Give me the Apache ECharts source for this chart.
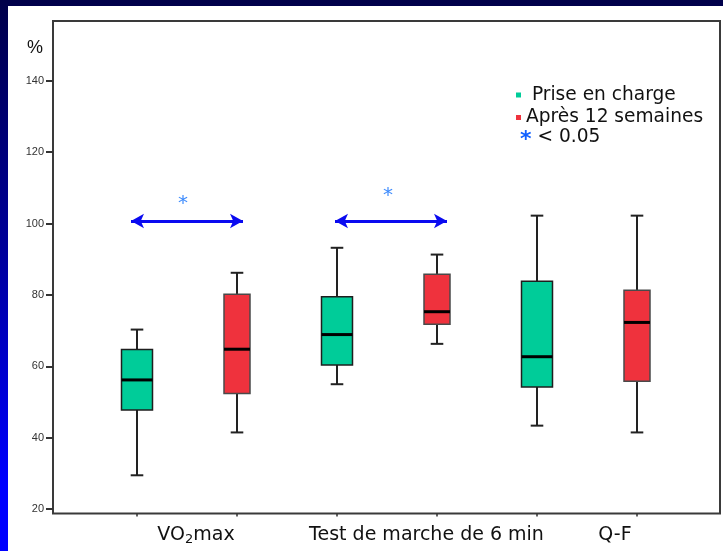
<!DOCTYPE html>
<html>
<head>
<meta charset="utf-8">
<script src="https://cdn.jsdelivr.net/npm/echarts@6/dist/echarts.min.js"></script>
<style>
  html, body { margin: 0; padding: 0; width: 723px; height: 551px; overflow: hidden; }
  body { background: linear-gradient(to bottom, #00004a 0%, #00009a 45%, #0000ff 88%, #0000ff 100%); position: relative; }
  #paper { position: absolute; left: 8px; top: 6px; right: 0; bottom: 0; background: #ffffff; }
  #chart { position: absolute; left: 0; top: 0; width: 723px; height: 551px; }
</style>
</head>
<body>
<div id="paper"></div>
<div id="chart"></div>
<script>
// ---- data ----
const categories = ['VO2max', 'Test de marche de 6 min', 'Q-F'];
const groups = ['Prise en charge', 'Après 12 semaines'];
// [min, Q1, median, Q3, max] per category
const priseEnCharge = [
  [29.5, 47.8, 56.2, 64.7, 70.3],
  [55.0, 60.4, 68.9, 79.5, 93.2],
  [43.4, 54.2, 62.7, 83.8, 102.2]
];
const apres12Semaines = [
  [41.5, 52.4, 64.8, 80.2, 86.2],
  [66.3, 71.8, 75.3, 85.8, 91.3],
  [41.5, 55.8, 72.3, 81.3, 102.2]
];
const yTicks = [20, 40, 60, 80, 100, 120, 140];
const significanceLevel = 100.7;      // p < 0.05 bracket height
const arrowSpans = [[0.94, 2.06], [2.98, 4.10]];
const starMarks = [[1.46, 105.6], [3.51, 107.8]];

// ---- layout helpers ----
const labelPos = [1.59, 3.895, 5.78];
const boxPos = (ci, gi) => ci * 2 + gi + 1;

const green = '#00cc99';
const red = '#ef323d';

function boxRenderer(widthRatio, fill, stroke) {
  return function (params, api) {
    const x = api.value(0);
    const pMin = api.coord([x, api.value(1)]);
    const pQ1 = api.coord([x, api.value(2)]);
    const pMed = api.coord([x, api.value(3)]);
    const pQ3 = api.coord([x, api.value(4)]);
    const pMax = api.coord([x, api.value(5)]);
    const band = api.size([1, 0])[0];
    const hw = band * widthRatio / 2;
    const cw = band * 0.063;
    const cx = pMin[0];
    const wStyle = { stroke: '#222', lineWidth: 2 };
    return {
      type: 'group',
      children: [
        { type: 'line', shape: { x1: cx, y1: pQ1[1], x2: cx, y2: pMin[1] }, style: wStyle },
        { type: 'line', shape: { x1: cx, y1: pQ3[1], x2: cx, y2: pMax[1] }, style: wStyle },
        { type: 'line', shape: { x1: cx - cw, y1: pMin[1], x2: cx + cw, y2: pMin[1] }, style: wStyle },
        { type: 'line', shape: { x1: cx - cw, y1: pMax[1], x2: cx + cw, y2: pMax[1] }, style: wStyle },
        { type: 'rect', shape: { x: cx - hw, y: pQ3[1], width: hw * 2, height: pQ1[1] - pQ3[1] },
          style: { fill: fill, stroke: stroke, lineWidth: 1.5 } },
        { type: 'line', shape: { x1: cx - hw, y1: pMed[1], x2: cx + hw, y2: pMed[1] },
          style: { stroke: '#000', lineWidth: 3 } }
      ]
    };
  };
}

const greenData = priseEnCharge.map((d, ci) => [boxPos(ci, 0)].concat(d));
const redData = apres12Semaines.map((d, ci) => [boxPos(ci, 1)].concat(d));

const arrowLines = arrowSpans.map(s => [
  { coord: [s[0], significanceLevel] },
  { coord: [s[1], significanceLevel] }
]);
const starPoints = starMarks.map(c => ({ coord: c }));

const chart = echarts.init(document.getElementById('chart'), null, { renderer: 'canvas' });
chart.setOption({
  animation: false,
  backgroundColor: 'transparent',
  grid: {
    left: 53, top: 21, width: 667, height: 492.5,
    show: true, borderColor: '#3a3a3a', borderWidth: 2, backgroundColor: 'transparent'
  },
  legend: {
    data: groups,
    orient: 'vertical',
    left: 511, top: 79,
    icon: 'rect', itemWidth: 5, itemHeight: 5, itemGap: 0.5,
    selectedMode: false,
    formatter: n => (n === groups[0] ? ' ' + n : n),
    textStyle: { fontSize: 18.6, fontFamily: 'DejaVu Sans', color: '#111', lineHeight: 22 }
  },
  xAxis: {
    type: 'value', min: 0.16, max: 6.83,
    axisLine: { show: false },
    splitLine: { show: false },
    axisTick: { show: true, customValues: [1, 2, 3, 4, 5, 6], length: 3, lineStyle: { color: '#333', width: 1.5 } },
    axisLabel: {
      customValues: labelPos,
      formatter: v => {
        const i = labelPos.indexOf(v);
        const name = categories[i] || '';
        return name === 'VO2max' ? 'VO{sub|2}max' : name;
      },
      margin: 10.5,
      fontSize: 19, fontFamily: 'DejaVu Sans', color: '#111', lineHeight: 22,
      rich: { sub: { fontSize: 13, fontFamily: 'DejaVu Sans', color: '#111', lineHeight: 13, verticalAlign: 'bottom' } }
    }
  },
  yAxis: {
    type: 'value', min: 18.8, max: 156.7,
    name: '%', nameLocation: 'end', nameGap: -27,
    nameTextStyle: { fontSize: 18, fontFamily: 'Liberation Sans', color: '#111', align: 'right', verticalAlign: 'middle', padding: [0, 10, 0, 0] },
    axisLine: { show: false },
    splitLine: { show: false },
    axisTick: { show: true, customValues: yTicks, length: 7, lineStyle: { color: '#333', width: 2 } },
    axisLabel: { customValues: yTicks, margin: 9, fontSize: 11, fontFamily: 'Liberation Sans', color: '#333' }
  },
  series: [
    {
      name: groups[0], type: 'custom', data: greenData,
      encode: { x: 0, y: [1, 2, 3, 4, 5] },
      itemStyle: { color: green },
      renderItem: boxRenderer(0.31, green, '#1e1e1e')
    },
    {
      name: groups[1], type: 'custom', data: redData,
      encode: { x: 0, y: [1, 2, 3, 4, 5] },
      itemStyle: { color: red },
      renderItem: boxRenderer(0.26, red, '#4a4a4a')
    },
    {
      name: 'p < 0.05', type: 'line', data: [],
      markLine: {
        silent: true,
        symbol: ['arrow', 'arrow'], symbolSize: [11, 13],
        lineStyle: { color: '#0a0af0', width: 3, type: 'solid' },
        label: { show: false },
        data: arrowLines
      },
      markPoint: {
        silent: true,
        symbol: 'circle', symbolSize: 1,
        itemStyle: { color: 'transparent' },
        label: { show: true, position: 'inside', formatter: '*', fontSize: 20, fontFamily: 'DejaVu Sans', color: '#3d8bfd' },
        data: starPoints
      }
    }
  ],
  graphic: [
    {
      type: 'text', x: 520, y: 137.5, silent: true,
      style: {
        text: '{a|*} < 0.05',
        fontSize: 18.6, fontFamily: 'DejaVu Sans', fill: '#111', verticalAlign: 'middle',
        rich: { a: { fontSize: 22, fontWeight: 'bold', fontFamily: 'DejaVu Sans', fill: '#1060ff', padding: [5, 0, 0, 0] } }
      }
    }
  ]
});
</script>
</body>
</html>
